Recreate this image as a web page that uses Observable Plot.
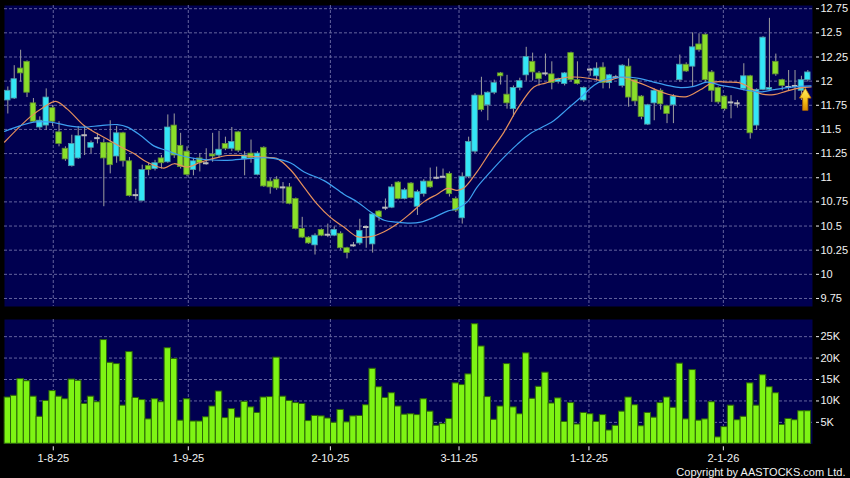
<!DOCTYPE html>
<html><head><meta charset="utf-8">
<script src="https://cdn.jsdelivr.net/npm/d3@7"></script>
<script src="https://cdn.jsdelivr.net/npm/@observablehq/plot@0.6"></script>
<style>
html,body{margin:0;padding:0;background:#000;}
#chart{width:850px;height:478px;overflow:hidden;background:#000;}
#chart svg{display:block;}
</style></head><body><div id="chart"></div>
<script>
// ---- data ----
const open  = [11.80,11.82,12.13,12.20,11.77,11.52,11.54,11.72,11.47,11.30,11.12,11.20,11.44,11.31,11.41,11.36,11.36,11.22,11.46,11.17,10.82,10.76,11.12,11.09,11.20,11.16,11.54,11.33,11.27,11.08,11.20,11.15,11.24,11.23,11.35,11.30,11.47,11.19,11.25,11.03,11.31,10.96,10.98,10.90,10.90,10.78,10.47,10.38,10.30,10.46,10.41,10.40,10.42,10.27,10.30,10.32,10.49,10.31,10.65,10.69,10.69,10.95,10.78,10.94,10.70,10.83,10.96,11.00,11.01,11.04,10.78,10.58,11.01,11.27,11.85,11.75,11.88,12.08,11.86,11.71,11.93,12.06,12.20,12.08,12.08,12.07,11.99,11.97,12.29,12.01,11.80,12.12,12.05,12.14,11.98,12.04,11.95,12.15,12.01,11.84,11.55,11.77,11.90,11.74,11.75,12.01,12.17,12.15,12.38,12.48,12.09,11.93,11.84,11.78,11.77,11.92,12.05,11.54,11.91,11.91,12.20,12.01,11.94,11.95,11.90,12.01];
const high  = [11.94,12.16,12.32,12.21,11.82,11.63,11.92,11.75,11.58,11.32,11.44,11.53,11.53,11.38,11.46,11.40,11.59,11.53,11.47,11.21,10.88,11.13,11.15,11.18,11.23,11.65,11.66,11.46,11.32,11.20,11.25,11.30,11.46,11.48,11.42,11.52,11.48,11.27,11.39,11.27,11.32,10.99,11.01,10.95,10.94,10.79,10.59,10.39,10.42,10.47,10.52,10.49,10.44,10.28,10.33,10.57,10.50,10.63,10.66,10.78,10.93,10.96,10.89,10.95,10.87,10.98,11.10,11.11,11.09,11.06,10.80,11.05,11.42,11.87,12.04,11.89,12.01,12.09,12.06,11.95,12.03,12.35,12.29,12.10,12.28,12.20,12.03,12.09,12.30,12.20,11.94,12.13,12.19,12.19,12.07,12.06,12.17,12.23,12.02,11.85,11.76,11.92,11.92,11.75,11.86,12.27,12.19,12.50,12.49,12.49,12.11,11.94,11.85,11.85,11.80,12.18,12.06,11.92,12.46,12.65,12.28,12.02,12.11,12.11,12.05,12.11];
const low   = [11.66,11.81,11.99,11.83,11.57,11.50,11.49,11.53,11.32,11.17,11.11,11.19,11.23,11.25,11.35,10.70,11.04,11.15,11.11,10.80,10.77,10.75,11.02,11.07,11.09,11.15,11.20,11.09,11.01,11.02,11.06,11.13,11.16,11.20,11.28,11.27,11.26,11.02,11.15,11.02,10.90,10.83,10.87,10.73,10.72,10.46,10.37,10.31,10.20,10.39,10.38,10.39,10.25,10.16,10.28,10.30,10.27,10.22,10.55,10.66,10.68,10.77,10.77,10.78,10.61,10.80,10.89,10.98,10.99,10.80,10.64,10.52,10.99,11.25,11.68,11.59,11.86,11.96,11.71,11.63,11.90,12.00,12.00,11.95,12.05,11.91,11.97,11.95,11.99,11.96,11.78,12.05,12.00,11.92,11.92,12.02,11.93,11.73,11.74,11.60,11.54,11.59,11.70,11.56,11.56,11.99,12.09,11.94,12.30,11.99,11.78,11.76,11.69,11.61,11.72,11.90,11.40,11.49,11.90,11.90,12.05,11.90,11.90,11.80,11.80,11.99];
const close = [11.90,12.02,12.08,11.88,11.58,11.59,11.83,11.58,11.35,11.19,11.35,11.43,11.44,11.36,11.41,11.20,11.13,11.46,11.17,10.81,10.82,11.08,11.08,11.15,11.15,11.52,11.23,11.11,11.03,11.17,11.15,11.15,11.22,11.29,11.30,11.37,11.28,11.23,11.20,11.25,10.91,10.90,10.89,10.90,10.73,10.47,10.38,10.32,10.40,10.40,10.41,10.46,10.27,10.22,10.30,10.45,10.49,10.62,10.59,10.69,10.90,10.78,10.87,10.79,10.85,10.96,10.90,11.00,11.01,10.83,10.66,11.01,11.37,11.85,11.70,11.88,11.98,12.05,11.77,11.93,12.00,12.25,12.09,12.02,12.08,11.98,12.02,12.08,12.01,11.97,11.93,12.12,12.13,11.98,12.06,12.04,12.16,11.83,11.79,11.63,11.75,11.90,11.76,11.66,11.84,12.17,12.10,12.35,12.32,12.01,11.90,11.78,11.71,11.78,11.77,12.05,11.46,11.91,12.45,11.93,12.07,11.95,11.94,11.95,12.01,12.09];
// volume in thousands
const volumeK = [10.8,11.2,15.1,14.6,11.0,6.3,10.0,12.3,11.0,10.4,15.0,14.7,9.3,11.0,9.7,24.2,18.9,18.6,8.9,21.4,10.7,10.2,5.7,10.4,9.7,22.3,19.8,5.4,10.4,5.2,5.2,6.2,8.7,12.2,6.0,8.1,6.1,9.8,8.5,7.2,10.8,10.9,20.1,11.0,10.0,9.5,9.3,5.3,6.5,6.4,5.9,4.9,7.9,5.0,6.4,6.5,9.0,17.5,13.2,10.7,11.8,8.7,6.8,6.9,6.7,10.4,7.5,4.2,4.6,5.8,14.1,13.7,16.2,27.9,22.7,10.9,5.6,8.7,18.6,8.5,6.9,21.1,10.5,13.3,16.6,9.4,10.6,5.1,9.5,4.5,7.2,6.9,5.1,6.7,3.1,4.2,7.5,10.8,9.0,4.1,7.2,6.1,9.5,10.8,8.4,18.7,5.7,17.2,5.4,5.7,9.7,1.5,3.9,8.9,5.5,6.3,14.1,8.9,16.0,13.2,11.8,4.4,5.8,5.5,7.6,7.6];
// moving averages (bar index, price)
const maShortIdx = [-0.5,3.5,5.6,7.5,9.3,11.9,14,15.5,17.6,19.7,21.8,24.4,26,28,30.1,32.2,34.3,36.4,38.4,40.5,42,44.2,46.3,48.3,50.4,52.5,54.6,56.7,58.8,60.8,62.9,65,67.1,68.7,70.2,71.2,73.3,75.4,77.5,79.6,82.2,84,85.3,87.4,89.5,91.6,93.6,95.7,98.3,99.9,102,104,106.1,108.2,110.3,112.4,114.5,116,117.6,119.7,121.8,123.9,125.5];
const maShortVal = [11.37,11.63,11.73,11.79,11.71,11.54,11.455,11.40,11.32,11.25,11.16,11.10,11.145,11.11,11.16,11.20,11.23,11.23,11.22,11.21,11.20,11.08,10.90,10.73,10.59,10.49,10.39,10.39,10.44,10.52,10.63,10.75,10.83,10.89,10.87,10.89,11.06,11.27,11.47,11.71,11.94,11.98,12.01,12.04,12.04,12.02,12.00,12.04,11.99,11.95,11.89,11.85,11.84,11.91,11.99,11.99,11.98,11.93,11.87,11.86,11.90,11.93,11.94];
const maLongIdx = [-0.5,2,4,6.7,9.3,11.9,14.5,17.1,18.7,20.7,22.8,24.9,27,29.1,31.2,34.3,37.4,40,41.5,44.2,46.3,49.4,52.5,54.6,56.7,58.8,60.8,62.9,64.5,66.6,68.7,70.2,71.8,73.3,75.4,77.5,79.6,81.7,84,85.3,87.4,89.5,91.6,93.1,95.2,97.3,98.8,100.9,103,105.1,107.2,109.3,111.4,113.5,115.6,117.6,119.7,121.8,123.9,125.5];
const maLongVal = [11.48,11.54,11.576,11.576,11.54,11.524,11.54,11.55,11.524,11.44,11.33,11.28,11.23,11.20,11.186,11.18,11.197,11.207,11.20,11.152,11.06,10.97,10.83,10.75,10.645,10.56,10.54,10.53,10.54,10.59,10.655,10.68,10.75,10.90,11.06,11.21,11.345,11.46,11.54,11.59,11.71,11.83,11.957,12.01,12.04,12.04,12.026,11.99,11.957,11.933,11.946,11.99,11.957,11.933,11.905,11.888,11.912,11.933,11.946,11.95];
const priceTicks = [9.75,10,10.25,10.5,10.75,11,11.25,11.5,11.75,12,12.25,12.5,12.75];
const volTicks = [5000,10000,15000,20000,25000];
const tickPos = [7.1,28.2,50.4,70.5,90.8,111.8];
const tickLabels = ["1-8-25","1-9-25","2-10-25","3-11-25","1-12-25","2-1-26"];
const arrowAt = [{i: 124.6, p: 11.70}];
const copyright = "Copyright by AASTOCKS.com Ltd.";

// ---- styling ----
const navy = "#000050", grid = "#64649e", dash = "3,2";
const upFill = "#33e6f6", upStroke = "#4f9aa8";
const dnFill = "#8ade2a", dnStroke = "#5f8d30";
const volFill = "#7ef414", volStroke = "#2c6408";
const font = '"Liberation Sans", Arial, sans-serif';
const xDomain = [-0.52, 125.73];
const half = 0.43;

const bars = open.map((o, i) => ({i, o, h: high[i], l: low[i], c: close[i], v: volumeK[i] * 1000}));
const ups = bars.filter(d => d.c > d.o);
const downs = bars.filter(d => d.c < d.o);
const flats = bars.filter(d => d.c === d.o);
const maShort = maShortIdx.map((x, k) => ({x, y: maShortVal[k]}));
const maLong = maLongIdx.map((x, k) => ({x, y: maLongVal[k]}));
const labelOf = new Map(tickPos.map((p, k) => [p, tickLabels[k]]));

const arrowShape = {
  draw(ctx, l) {
    const hh = 10, sw = 2.6, hw = 5.8;
    ctx.moveTo(-sw, 0);
    ctx.lineTo(-sw, -l + hh);
    ctx.lineTo(-hw, -l + hh);
    ctx.lineTo(0, -l);
    ctx.lineTo(hw, -l + hh);
    ctx.lineTo(sw, -l + hh);
    ctx.lineTo(sw, 0);
    ctx.closePath();
  }
};

const style = {background: "#000", color: "#f2f2f2", fontFamily: font, fontSize: "11px", overflow: "visible"};

const main = Plot.plot({
  width: 850, height: 312,
  marginLeft: 4, marginRight: 38, marginTop: 5, marginBottom: 6,
  style,
  x: {domain: xDomain, axis: null},
  y: {domain: [9.667, 12.783], axis: null},
  marks: [
    Plot.frame({fill: navy, stroke: "none"}),
    Plot.ruleY(priceTicks, {stroke: grid, strokeDasharray: dash}),
    Plot.ruleX(tickPos, {stroke: grid, strokeDasharray: dash}),
    Plot.ruleX(bars, {x: "i", y1: "l", y2: "h", stroke: "#9e9e9e", strokeWidth: 1}),
    Plot.rect(ups, {x1: d => d.i - half, x2: d => d.i + half, y1: "o", y2: "c", fill: upFill, stroke: upStroke, strokeWidth: 0.8}),
    Plot.rect(downs, {x1: d => d.i - half, x2: d => d.i + half, y1: "o", y2: "c", fill: dnFill, stroke: dnStroke, strokeWidth: 0.8}),
    Plot.ruleY(flats, {x1: d => d.i - half, x2: d => d.i + half, y: "c", stroke: "#bcbcbc", strokeWidth: 2}),
    Plot.line(maShort, {x: "x", y: "y", stroke: "#e6905c", strokeWidth: 1.2, curve: "catmull-rom"}),
    Plot.line(maLong, {x: "x", y: "y", stroke: "#3d9ff0", strokeWidth: 1.2, curve: "catmull-rom"}),
    Plot.vector(arrowAt, {x: "i", y: "p", length: 22, anchor: "start", shape: arrowShape, fill: "url(#arrowGrad)", stroke: "#b36b00", strokeWidth: 0.8}),
    Plot.axisY(priceTicks, {anchor: "right", label: null, tickSize: 3, dx: 3, tickPadding: 2, tickFormat: d => String(d), fontSize: 11})
  ]
});

const defs = d3.select(main).insert("defs", ":first-child");
const g = defs.append("linearGradient").attr("id", "arrowGrad").attr("x1", 0).attr("y1", 0).attr("x2", 0).attr("y2", 1);
g.append("stop").attr("offset", "0%").attr("stop-color", "#fff066");
g.append("stop").attr("offset", "55%").attr("stop-color", "#f5c21a");
g.append("stop").attr("offset", "100%").attr("stop-color", "#d98a00");

const vol = Plot.plot({
  width: 850, height: 166,
  marginLeft: 4, marginRight: 38, marginTop: 7, marginBottom: 34.7,
  style,
  x: {domain: xDomain, axis: null},
  y: {domain: [0, 29000], axis: null},
  marks: [
    Plot.frame({fill: navy, stroke: "none"}),
    Plot.ruleY(volTicks, {stroke: grid, strokeDasharray: dash}),
    Plot.ruleX(tickPos, {stroke: grid, strokeDasharray: dash}),
    Plot.rectY(bars, {x1: d => d.i - 0.5, x2: d => d.i + 0.5, y: "v", fill: volFill, stroke: volStroke, strokeWidth: 1}),
    Plot.axisY(volTicks, {anchor: "right", label: null, tickSize: 3, dx: 3, tickPadding: 2, tickFormat: d => d / 1000 + "K", fontSize: 11}),
    Plot.axisX(tickPos, {anchor: "bottom", label: null, tickSize: 4, dy: 3, tickPadding: 3, tickFormat: d => labelOf.get(d), fontSize: 11}),
    Plot.text([copyright], {text: d => d, frameAnchor: "bottom-right", dx: 33, dy: 28.5, textAnchor: "end", lineAnchor: "middle", fill: "#f2f2f2", fontSize: 11, letterSpacing: "0.2px"})
  ]
});

document.getElementById("chart").append(main, vol);
</script>
</body></html>
